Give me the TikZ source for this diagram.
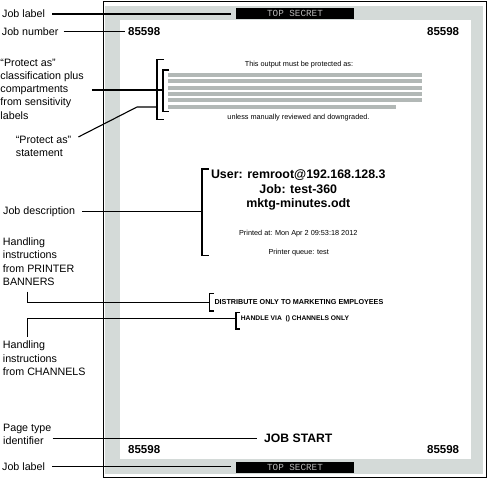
\documentclass[tikz,border=0pt]{standalone}
\usepackage{fontspec}
\setmainfont{Liberation Sans}
\newfontfamily\monofont{Liberation Mono}
\usetikzlibrary{calc}
\definecolor{pagegray}{RGB}{212,218,216}
\definecolor{bargray}{RGB}{178,184,182}
\definecolor{tsgray}{RGB}{185,185,185}
\tikzset{
  lbl/.style={font=\fontsize{10.7}{13.2}\selectfont, align=left, inner sep=0pt, anchor=west},
  conn/.style={line width=1.1pt},
  brk/.style={line width=1.4pt},
  small/.style={font=\fontsize{7.3}{9}\selectfont, inner sep=0pt},
  jobnum/.style={font=\fontsize{11.5}{13}\selectfont\bfseries, inner sep=0pt},
  tsbox/.style={fill=black, text=tsgray, font=\monofont\fontsize{9.3}{10}\selectfont,
    minimum width=118pt, minimum height=10.7pt, inner sep=0pt},
  bar/.style={fill=bargray}
}
\begin{document}
\begin{tikzpicture}[x=1pt,y=-1pt]
\useasboundingbox (0,0) rectangle (488,479);
% page
\fill[pagegray] (105,6) rectangle (482.5,474);
\draw[line width=1.3pt] (103.5,1.3) rectangle (486.8,477.4);
\fill[white] (120,20) rectangle (470.5,459);
% top secret labels
\node[tsbox] (ts1) at (295,13.3) {TOP SECRET};
\node[tsbox] (ts2) at (295,467.8) {TOP SECRET};
% job numbers
\node[jobnum, anchor=west] (num1) at (128,32) {85598};
\node[jobnum, anchor=east] (num2) at (459.3,32) {85598};
\node[jobnum, anchor=west] (num3) at (128,449.5) {85598};
\node[jobnum, anchor=east] (num4) at (459.3,449.5) {85598};
% protect as block
\node[small] (msg1) at (299,65) {This output must be protected as:};
\foreach \yy in {75,81.3,87.7,94,100.3} {\fill[bar] (168,\yy-2) rectangle (422,\yy+2);}
\fill[bar] (168,105) rectangle (396,109);
\node[small] (msg2) at (298.5,118) {unless manually reviewed and downgraded.};
% job description block
\node[font=\fontsize{12.4}{14.8}\selectfont\bfseries, align=center, inner sep=0pt] (user) at (298.3,190)
  {User: remroot@192.168.128.3\\Job: test-360\\mktg-minutes.odt};
\node[small] (printed) at (298.3,234) {Printed at: Mon Apr 2 09:53:18 2012};
\node[small] (queue) at (298.7,252.3) {Printer queue: test};
% handling
\node[font=\fontsize{7.2}{9}\selectfont\bfseries, inner sep=0pt, anchor=west] (dist) at (214.3,302.3) {DISTRIBUTE ONLY TO MARKETING EMPLOYEES};
\node[font=\fontsize{6.7}{8}\selectfont\bfseries, inner sep=0pt, anchor=west] (handle) at (240.7,318.7) {HANDLE VIA\ \ () CHANNELS ONLY};
\node[font=\fontsize{12.2}{14}\selectfont\bfseries, inner sep=0pt, anchor=west] (js) at (264,438.3) {JOB START};
% brackets
\draw[brk] (164,59.3) -- (157,59.3) -- (157,119.3) -- (164,119.3);
\coordinate (bo) at (157,107);
\draw[brk] (169,70) -- (163,70) -- (163,111.7) -- (169,111.7);
\coordinate (bi) at (163,90);
\draw[brk] (209,169) -- (202,169) -- (202,255.5) -- (209,255.5);
\coordinate (bj) at (202,211.7);
\draw[brk] (214,293.5) -- (209.5,293.5) -- (209.5,311) -- (214,311);
\coordinate (bd) at (209.5,302.3);
\draw[brk] (240,312.5) -- (236,312.5) -- (236,329) -- (240,329);
\coordinate (bh) at (236,318.7);
% left labels
\node[lbl] (jl1) at (2,14) {Job label};
\node[lbl] (jn) at (1.7,31.5) {Job number};
\node[lbl] (pa) at (0.3,89) {“Protect as”\\classification plus\\compartments\\from sensitivity\\labels};
\node[lbl] (ps) at (15.7,146.5) {“Protect as”\\statement};
\node[lbl] (jd) at (3,211.7) {Job description};
\node[lbl] (hp) at (2.7,261.7) {Handling\\instructions\\from PRINTER\\BANNERS};
\node[lbl] (hc) at (2.7,358.3) {Handling\\instructions\\from CHANNELS};
\node[lbl] (pt) at (3,434.2) {Page type\\identifier};
\node[lbl] (jl2) at (2,466.7) {Job label};
% connectors
\coordinate (psk) at (137,107);
\coordinate (hpk) at (27.3,302.3);
\coordinate (hck) at (27.3,318.7);
\draw[conn, shorten <=7pt, shorten >=5pt] (jl1.east) -- (jl1.east -| ts1.west);
\draw[conn, shorten <=5pt, shorten >=3pt] (jn.east) -- (jn.east -| num1.west);
\draw[conn, shorten <=8pt] (pa.east |- bi) -- (bi);
\draw[conn] ($(ps.north east)+(7,1)$) -- (psk) -- (bo);
\draw[conn, shorten <=7pt] (jd.east |- bj) -- (bj);
\draw[conn, shorten <=6pt] (hp.south -| hpk) -- (hpk) -- (bd);
\draw[conn, shorten >=4pt] (bh) -- (hck) -- (hc.north -| hck);
\draw[conn, shorten <=1pt, shorten >=7pt] (pt.east |- js.west) -- (js.west);
\draw[conn, shorten <=7pt, shorten >=5pt] (jl2.east) -- (jl2.east -| ts2.west);
\end{tikzpicture}
\end{document}
